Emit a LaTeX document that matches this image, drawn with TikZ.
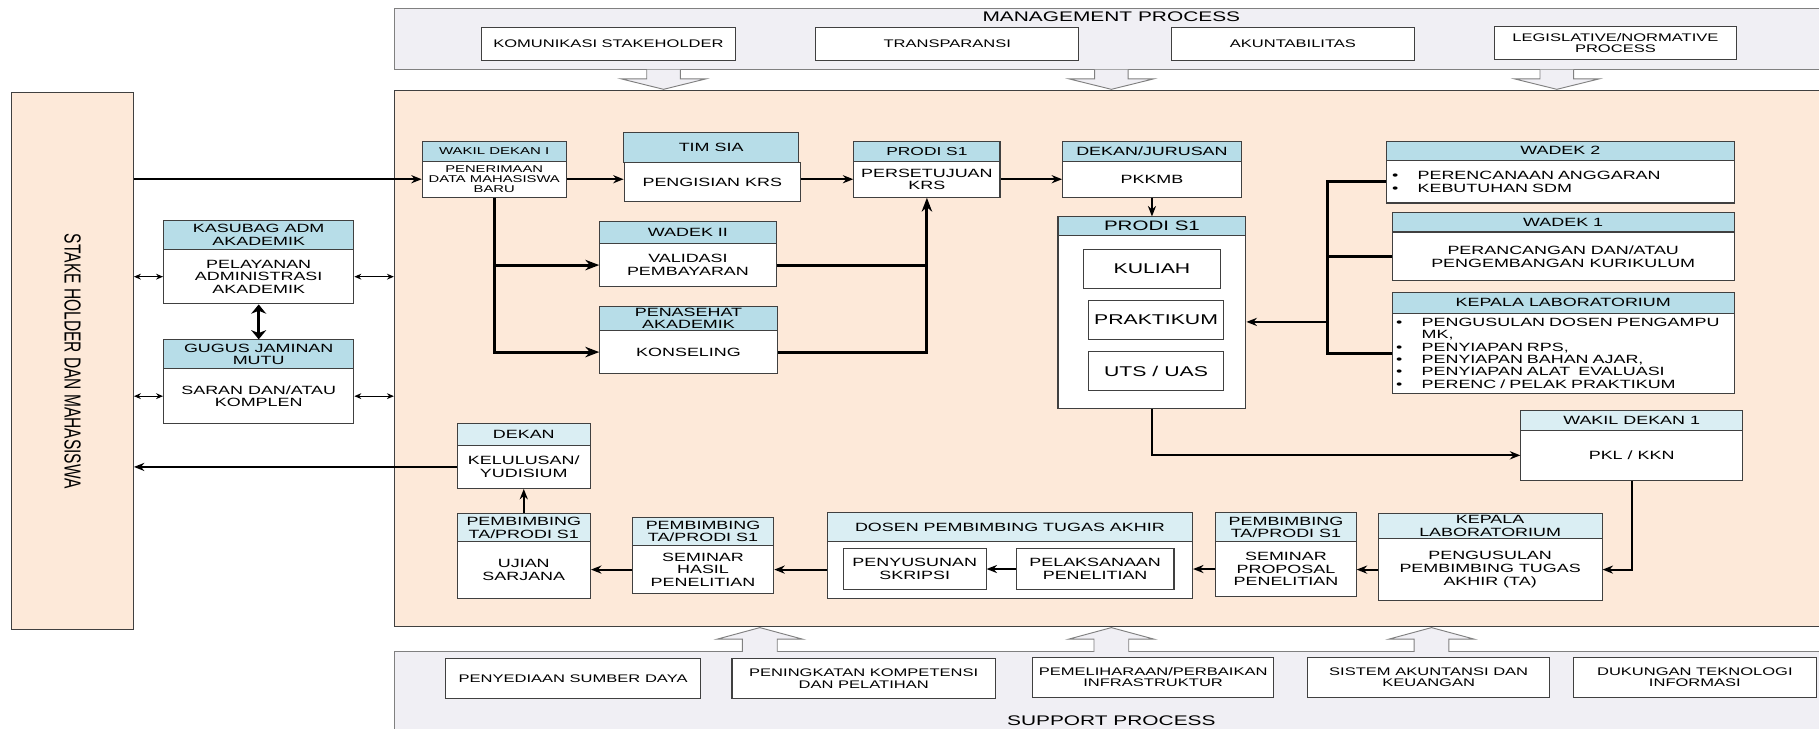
\documentclass[tikz,border=0pt]{standalone}
\usepackage{fontspec}
\setmainfont{Liberation Sans}[FakeStretch=1.5]
\newfontfamily\vertfont{Liberation Sans}[FakeStretch=0.67]
\usetikzlibrary{arrows.meta,positioning}
\definecolor{peach}{HTML}{FDE9D9}
\definecolor{band}{HTML}{F0EFF4}
\definecolor{hdr}{HTML}{B7DDE8}
\definecolor{hdrpale}{HTML}{DAEEF3}
\definecolor{edge}{HTML}{404040}
\definecolor{bandedge}{HTML}{808080}

\begin{document}
\begin{tikzpicture}[x=1pt,y=-1pt,
  box/.style={draw=edge,line width=0.9pt,fill=white,inner sep=0pt,align=center,font=\fontsize{10.3}{10.8}\selectfont},
  head/.style={box,fill=hdr},
  headpale/.style={box,fill=hdrpale},
  procbox/.style={box,font=\fontsize{9.5}{9.6}\selectfont},
  area/.style={draw=edge,line width=0.9pt,fill=peach,inner sep=0pt},
  bandbox/.style={draw=bandedge,line width=0.9pt,fill=band,inner sep=0pt},
  blockarrow/.style={draw=bandedge,fill=band,line width=0.8pt},
  flow/.style={line width=1.6pt,-{Stealth[length=9pt,width=7pt]}},
  thickline/.style={line width=2.5pt},
  thickflow/.style={line width=2.5pt,-{Stealth[length=12pt,width=9pt]}},
  both/.style={line width=1pt,{Stealth[length=6pt,width=5pt]}-{Stealth[length=6pt,width=5pt]}},
  thickboth/.style={line width=3pt,{Stealth[length=8pt,width=13pt]}-{Stealth[length=8pt,width=13pt]}}]
  \useasboundingbox (0,0) rectangle (1568,628);
  \fill[white] (0,0) rectangle (1568,628);

  % stakeholder column
  \node[area,minimum width=105,minimum height=463] (stake) at (62.5,311.5) {};
  \node[rotate=-90,font=\vertfont\fontsize{20}{22}\selectfont] at (stake.center) {STAKE HOLDER DAN MAHASISWA};

  % management process
  \node[bandbox,minimum width=1240,minimum height=53] (mgmt) at (960,33.5) {};
  \node[font=\fontsize{12}{12}\selectfont] at (958,14) {MANAGEMENT PROCESS};
  \node[procbox,minimum width=219,minimum height=28] (komunikasi) at (524.5,38) {KOMUNIKASI STAKEHOLDER};
  \node[procbox,minimum width=227,minimum height=28] (transparansi) at (816.5,38) {TRANSPARANSI};
  \node[procbox,minimum width=209,minimum height=28] (akuntabilitas) at (1114.5,38) {AKUNTABILITAS};
  \node[procbox,minimum width=209,minimum height=28] (legislative) at (1392.5,37) {LEGISLATIVE/NORMATIVE\\PROCESS};
  \foreach \ax in {572,958,1342}
    \draw[blockarrow] (\ax-14.5,60) -- (\ax-14.5,68) -- (\ax-36.5,68) -- (\ax,77)
      -- (\ax+36.5,68) -- (\ax+14.5,68) -- (\ax+14.5,60);

  % core process
  \node[area,minimum width=1240,minimum height=462] (proc) at (960,309) {};

  % support process
  \node[bandbox,minimum width=1240,minimum height=80] (supp) at (960,602) {};
  \node[font=\fontsize{12}{12}\selectfont] at (958,621) {SUPPORT PROCESS};
  \foreach \ax in {655,958,1234}
    \draw[blockarrow] (\ax-15,562) -- (\ax-15,551) -- (\ax-37,551) -- (\ax,541)
      -- (\ax+37,551) -- (\ax+15,551) -- (\ax+15,562);
  \node[procbox,minimum width=220,minimum height=34] (sumberdaya) at (494,585) {PENYEDIAAN SUMBER DAYA};
  \node[procbox,minimum width=227,minimum height=34] (kompetensi) at (744.5,585) {PENINGKATAN KOMPETENSI\\DAN PELATIHAN};
  \node[procbox,minimum width=208,minimum height=34] (infrastruktur) at (994,584) {PEMELIHARAAN/PERBAIKAN\\INFRASTRUKTUR};
  \node[procbox,minimum width=209,minimum height=34] (keuangan) at (1231.5,584) {SISTEM AKUNTANSI DAN\\KEUANGAN};
  \node[procbox,minimum width=210,minimum height=34] (teknologi) at (1461,584) {DUKUNGAN TEKNOLOGI\\INFORMASI};

  % left services
  \node[head,minimum width=164,minimum height=25] (kasubagh) at (223,202.5) {KASUBAG ADM\\AKADEMIK};
  \node[box,minimum width=164,minimum height=47] (kasubag) at (223,238.5) {PELAYANAN\\ADMINISTRASI\\AKADEMIK};
  \node[head,minimum width=164,minimum height=25] (gugush) at (223,305.5) {GUGUS JAMINAN\\MUTU};
  \node[box,minimum width=164,minimum height=47] (gugus) at (223,341.5) {SARAN DAN/ATAU\\KOMPLEN};

  % intake row
  \node[head,font=\fontsize{8.6}{9}\selectfont,minimum width=124,minimum height=17] (wakilh) at (426,130.5) {WAKIL DEKAN I};
  \node[box,font=\fontsize{8.5}{8.6}\selectfont,minimum width=124,minimum height=31] (wakil) at (426,154.5) {PENERIMAAN\\DATA MAHASISWA\\BARU};
  \node[head,minimum width=151,minimum height=26] (timsiah) at (613,127) {TIM SIA};
  \node[box,minimum width=152,minimum height=34] (timsia) at (614,157) {PENGISIAN KRS};
  \node[head,font=\fontsize{10}{10}\selectfont,minimum width=126,minimum height=17] (prodih) at (799,130.5) {PRODI S1};
  \node[box,minimum width=126,minimum height=31] (prodi) at (799,154.5) {PERSETUJUAN\\KRS};
  \node[head,minimum width=154,minimum height=17] (dekanjurh) at (993,130.5) {DEKAN/JURUSAN};
  \node[box,minimum width=154,minimum height=31] (dekanjur) at (993,154.5) {PKKMB};
  \node[head,minimum width=152,minimum height=19] (wadekiih) at (593,200.5) {WADEK II};
  \node[box,minimum width=152,minimum height=37] (wadekii) at (593,228.5) {VALIDASI\\PEMBAYARAN};
  \node[head,font=\fontsize{10.3}{10}\selectfont,minimum width=153,minimum height=21] (penasehath) at (593.5,274.5) {PENASEHAT\\AKADEMIK};
  \node[box,minimum width=153,minimum height=37] (penasehat) at (593.5,303.5) {KONSELING};

  % lectures
  \node[head,font=\fontsize{11.8}{12}\selectfont,minimum width=162,minimum height=16] (prodibh) at (993,195) {PRODI S1};
  \node[box,minimum width=162,minimum height=149] (prodib) at (993,277.5) {};
  \node[box,font=\fontsize{12.2}{12}\selectfont,minimum width=118,minimum height=34] (kuliah) at (993,232) {KULIAH};
  \node[box,font=\fontsize{12.2}{12}\selectfont,minimum width=117,minimum height=34] (praktikum) at (996.5,276) {PRAKTIKUM};
  \node[box,font=\fontsize{12.2}{12}\selectfont,minimum width=117,minimum height=34] (utsuas) at (996.5,320) {UTS / UAS};

  % support roles on the right
  \node[head,minimum width=300,minimum height=16] (wadek2h) at (1345,130) {WADEK 2};
  \node[box,align=left,text width=290,inner xsep=5pt,minimum height=37,font=\fontsize{10.3}{11}\selectfont] (wadek2) at (1345,156.5)
    {\makebox[22pt][l]{\textbullet}PERENCANAAN ANGGARAN\\\makebox[22pt][l]{\textbullet}KEBUTUHAN SDM};
  \node[head,minimum width=295,minimum height=17] (wadek1h) at (1347.5,191.5) {WADEK 1};
  \node[box,font=\fontsize{10.3}{11}\selectfont,minimum width=295,minimum height=42] (wadek1) at (1347.5,221) {PERANCANGAN DAN/ATAU\\PENGEMBANGAN KURIKULUM};
  \node[head,minimum width=295,minimum height=18] (kalabh) at (1347.5,261) {KEPALA LABORATORIUM};
  \node[box,align=left,text width=288,inner xsep=3.5pt,minimum height=69,font=\fontsize{10.3}{10.6}\selectfont] (kalab) at (1347.5,304.5)
    {\makebox[22pt][l]{\textbullet}PENGUSULAN DOSEN PENGAMPU\\\makebox[22pt][l]{}MK,\\
     \makebox[22pt][l]{\textbullet}PENYIAPAN RPS,\\\makebox[22pt][l]{\textbullet}PENYIAPAN BAHAN AJAR,\\
     \makebox[22pt][l]{\textbullet}PENYIAPAN ALAT\ \ EVALUASI\\\makebox[22pt][l]{\textbullet}PERENC / PELAK PRAKTIKUM};
  \coordinate (brk) at (1144,0);

  % final project chain
  \node[headpale,minimum width=191,minimum height=17] (wakil1h) at (1406.5,362.5) {WAKIL DEKAN 1};
  \node[box,minimum width=191,minimum height=43] (wakil1) at (1406.5,392.5) {PKL / KKN};
  \node[headpale,font=\fontsize{10.3}{11.6}\selectfont,minimum width=193,minimum height=21] (kalabbh) at (1284.5,453.5) {KEPALA\\LABORATORIUM};
  \node[box,font=\fontsize{10.3}{11}\selectfont,minimum width=193,minimum height=54] (kalabb) at (1284.5,491) {PENGUSULAN\\PEMBIMBING TUGAS\\AKHIR (TA)};
  \node[headpale,minimum width=121,minimum height=25] (proposalh) at (1108.5,454.5) {PEMBIMBING\\TA/PRODI S1};
  \node[box,minimum width=121,minimum height=47] (proposal) at (1108.5,490.5) {SEMINAR\\PROPOSAL\\PENELITIAN};
  \node[headpale,minimum width=315,minimum height=25] (dosenh) at (870.5,454.5) {DOSEN PEMBIMBING TUGAS AKHIR};
  \node[box,minimum width=315,minimum height=49] (dosen) at (870.5,491.5) {};
  \node[box,minimum width=123,minimum height=35] (penyusunan) at (788.5,490.5) {PENYUSUNAN\\SKRIPSI};
  \node[box,minimum width=136,minimum height=35] (pelaksanaan) at (944,490.5) {PELAKSANAAN\\PENELITIAN};
  \node[headpale,minimum width=122,minimum height=24] (hasilh) at (606,458) {PEMBIMBING\\TA/PRODI S1};
  \node[box,minimum width=122,minimum height=42] (hasil) at (606,491) {SEMINAR\\HASIL\\PENELITIAN};
  \node[headpale,minimum width=115,minimum height=24] (ujianh) at (451.5,455) {PEMBIMBING\\TA/PRODI S1};
  \node[box,minimum width=115,minimum height=49] (ujian) at (451.5,491.5) {UJIAN\\SARJANA};
  \node[headpale,minimum width=115,minimum height=19] (dekanh) at (451.5,374.5) {DEKAN};
  \node[box,minimum width=115,minimum height=37] (dekan) at (451.5,402.5) {KELULUSAN/\\YUDISIUM};

  % connectors
  \draw[both] (stake.east |- kasubag.west) -- (kasubag.west);
  \draw[both] (kasubag.east) -- (proc.west |- kasubag.east);
  \draw[both] (stake.east |- gugus.west) -- (gugus.west);
  \draw[both] (gugus.east) -- (proc.west |- gugus.east);
  \draw[thickboth] (kasubag.south) -- (gugush.north);

  \draw[flow] (stake.east |- wakil.west) -- (wakil.west);
  \draw[flow] (wakil.east) -- (timsia.west |- wakil.east);
  \draw[flow] (timsia.east |- prodi.west) -- (prodi.west);
  \draw[flow] (prodi.east) -- (dekanjur.west);
  \draw[flow] (dekanjur.south) -- (prodibh.north);
  \draw[thickflow] (wakil.south) |- (penasehat.west);
  \draw[thickflow] (wakil.south |- wadekii.west) -- (wadekii.west);
  \draw[thickline] (wadekii.east) -- (prodi.south |- wadekii.east);
  \draw[thickflow] (penasehat.east) -| (prodi.south);

  \draw[thickline] (wadek2.west) -| (brk |- kalab.west) -- (kalab.west);
  \draw[thickline] (wadek1.west) -- (brk |- wadek1.west);
  \draw[flow] (brk |- prodib.east) -- (prodib.east);

  \draw[flow] (prodib.south) |- (wakil1.west);
  \draw[flow] (wakil1.south) |- (kalabb.east);
  \draw[flow] (kalabb.west) -- (proposal.east |- kalabb.west);
  \draw[flow] (proposal.west) -- (dosen.east |- proposal.west);
  \draw[flow] (pelaksanaan.west) -- (penyusunan.east);
  \draw[flow] (dosen.west |- hasil.east) -- (hasil.east);
  \draw[flow] (hasil.west) -- (ujian.east |- hasil.west);
  \draw[flow] (ujianh.north) -- (dekan.south);
  \draw[flow] (dekan.west) -- (stake.east |- dekan.west);
\end{tikzpicture}
\end{document}
